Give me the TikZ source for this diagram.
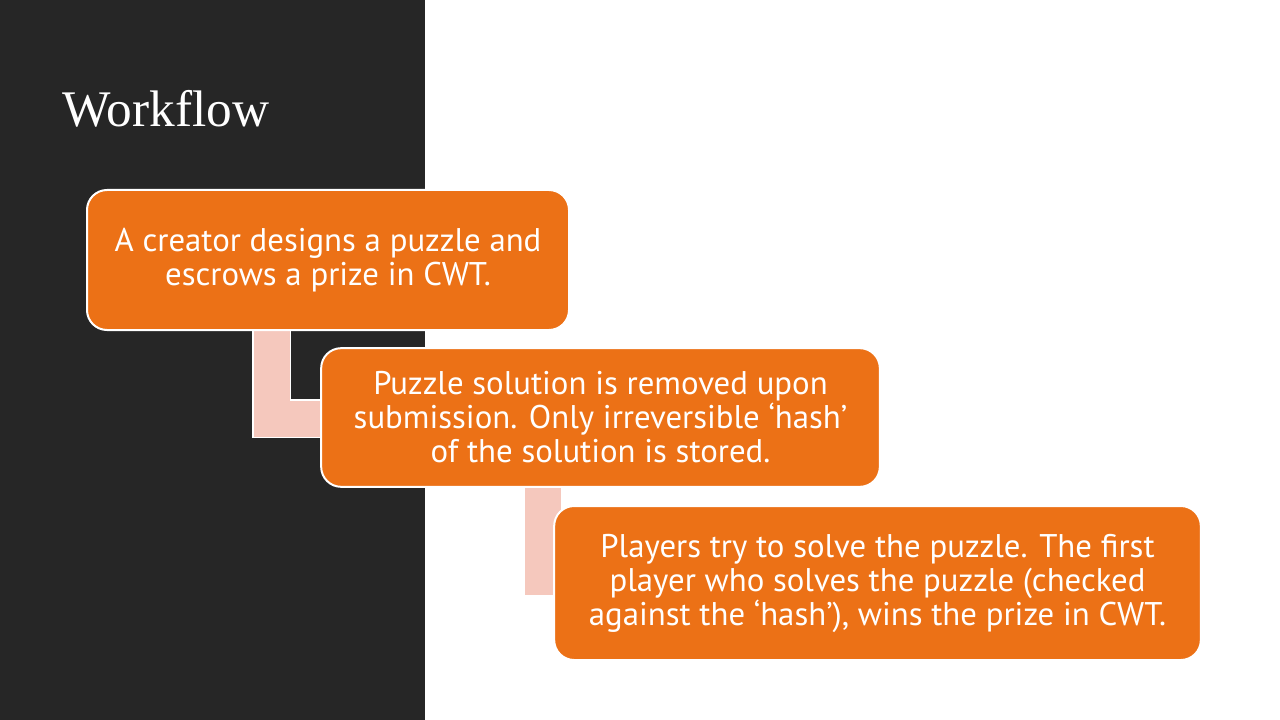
\documentclass[tikz,border=0pt]{standalone}
\usepackage{fontspec}
\setmainfont{PT Sans}
\newfontfamily\titlefont{Liberation Serif}
\usetikzlibrary{positioning}
\definecolor{panel}{HTML}{262626}
\definecolor{stagefill}{HTML}{EC7116}
\definecolor{linkfill}{HTML}{F5C8BD}
\pgfdeclarelayer{back}
\pgfdeclarelayer{mid}
\pgfsetlayers{back,mid,main}

\begin{document}
\begin{tikzpicture}[x=0.75pt,y=-0.75pt]
\tikzstyle{stage}=[draw=white,line width=1.5pt,fill=stagefill,rounded corners=15pt,text=white,align=center,font=\fontsize{24.6}{25.5}\selectfont,inner sep=0pt];
\tikzstyle{link}=[draw=white,line width=1.2pt,double=linkfill,double distance=27pt];
\useasboundingbox (0,0) rectangle (1280,720);

\begin{pgfonlayer}{back}
\fill [white] (0,0) rectangle (1280,720);
\fill [panel] (0,0) rectangle (425,720);
\end{pgfonlayer}

\node [anchor=base west,text=white,font=\titlefont\fontsize{38.5}{40}\selectfont,inner sep=0pt] (t) at (62,127) {Workflow};

\node [stage,minimum width=361.5pt,minimum height=105pt] (s1) at (328,260) {A creator designs a puzzle and\\escrows a prize in CWT.};
\node [stage,minimum width=419pt,minimum height=104pt] (s2) at (600.5,417.5) {Puzzle solution is removed upon\\submission. Only irreversible ‘hash’\\of the solution is stored.};
\node [stage,minimum width=485pt,minimum height=115.5pt] (s3) at (877.5,583) {Players try to solve the puzzle. The first\\player who solves the puzzle (checked\\against the ‘hash’), wins the prize in CWT.};

%%

\coordinate (k1) at (271.5,418.5);
\coordinate (k2) at (543,577);
\begin{pgfonlayer}{mid}
\draw [link] (k1 |- s1) |- (s2 |- k1);
\draw [link] (k2 |- s2) |- (s3 |- k2);
\end{pgfonlayer}
\end{tikzpicture}
\end{document}
